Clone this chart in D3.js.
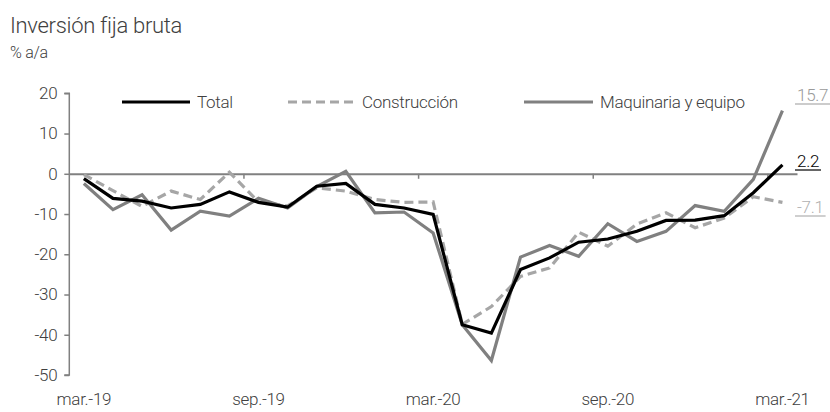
<!DOCTYPE html>
<html><head><meta charset="utf-8">
<script src="https://cdn.jsdelivr.net/npm/d3@7"></script>
<style>
html,body{margin:0;padding:0;background:#fff;}
svg text{font-family:"Roboto","Liberation Sans",sans-serif;font-weight:300;fill:#404040;letter-spacing:-0.3px;}
</style></head>
<body><svg id="c" width="830" height="412"></svg>
<script>
const months = ["mar.-19","abr.-19","may.-19","jun.-19","jul.-19","ago.-19","sep.-19","oct.-19","nov.-19","dic.-19","ene.-20","feb.-20","mar.-20","abr.-20","may.-20","jun.-20","jul.-20","ago.-20","sep.-20","oct.-20","nov.-20","dic.-20","ene.-21","feb.-21","mar.-21"];
const xTickLabels = ["mar.-19","sep.-19","mar.-20","sep.-20","mar.-21"];
const yTicks = [20,10,0,-10,-20,-30,-40,-50];
const total = [-1.2,-6.1,-6.8,-8.5,-7.6,-4.5,-7.1,-8.3,-3.1,-2.4,-7.6,-8.5,-10.1,-37.5,-39.6,-23.8,-20.9,-17.0,-16.2,-14.3,-11.6,-11.5,-10.4,-4.7,2.2];
const construccion = [-0.2,-4.2,-8.1,-4.3,-6.4,0.4,-7.0,-8.0,-3.5,-4.3,-6.4,-7.1,-7.0,-37.4,-33.0,-25.5,-23.4,-14.5,-18.0,-12.5,-9.7,-13.4,-11.0,-5.7,-7.1];
const maquinaria = [-2.4,-8.9,-5.2,-14.0,-9.3,-10.5,-6.1,-8.5,-3.2,0.6,-9.7,-9.5,-14.7,-37.5,-46.4,-20.7,-17.8,-20.5,-12.4,-16.8,-14.3,-7.9,-9.3,-1.4,15.7];
const seriesNames = ["Total","Construcción","Maquinaria y equipo"];

const svg = d3.select("#c");
const x = d3.scaleBand().domain(months).range([69.3, 797]);
const cx = m => x(m) + x.bandwidth()/2;
const y = d3.scaleLinear().domain([-50,20]).range([375,93.3]);
const hy = v => String(v).replace("\u2212","-");

// title
svg.append("text").attr("x",10).attr("y",33).style("font-size","22px").text("Inversión fija bruta");
svg.append("text").attr("x",10).attr("y",58).style("font-size","16px").text("% a/a");

// y axis
const yAxis = svg.append("g").attr("transform","translate(69.3,0)")
  .call(d3.axisLeft(y).tickValues(yTicks).tickSize(5).tickPadding(7).tickFormat(d=>hy(d)));
yAxis.selectAll("path,line").attr("stroke","#808080").attr("stroke-width",1.5);
yAxis.select(".domain").attr("d",`M-5,${y(20)}H0V${y(-50)}H-5`);
yAxis.selectAll("text").style("font-size","17px").style("font-family",null).attr("fill",null);

// zero line with ticks between categories
const xAxis = svg.append("g").attr("transform",`translate(0,${y(0)})`)
  .call(d3.axisBottom(x).tickValues(xTickLabels).tickSize(0).tickFormat(""));
xAxis.select(".domain").attr("stroke","#808080").attr("stroke-width",2);
xAxis.selectAll(".tick").remove();
["sep.-19","mar.-20","sep.-20","mar.-21"].forEach(m=>{
  xAxis.append("line").attr("x1",x(m)).attr("x2",x(m)).attr("y1",0).attr("y2",5)
    .attr("stroke","#808080").attr("stroke-width",1.5);
});
// x labels at bottom
svg.append("g").selectAll("text").data(xTickLabels).join("text")
  .attr("x",d=>cx(d)).attr("y",405).attr("text-anchor","middle")
  .style("font-size","17px").text(d=>d);

const line = d3.line().x((d,i)=>cx(months[i])).y(d=>y(d));
const styles = [
  {data:construccion,color:"#a6a6a6",dash:"9,5"},
  {data:maquinaria,color:"#808080",dash:null},
  {data:total,color:"#000000",dash:null}
];
styles.forEach(s=>{
  svg.append("path").datum(s.data).attr("d",line).attr("fill","none")
    .attr("stroke",s.color).attr("stroke-width",3.2).attr("stroke-dasharray",s.dash)
    .attr("stroke-linejoin","miter");
});

// legend
const legend = [
  {name:seriesNames[0],color:"#000",dash:null,x1:122,x2:190},
  {name:seriesNames[1],color:"#a6a6a6",dash:"9,5",x1:288,x2:355},
  {name:seriesNames[2],color:"#808080",dash:null,x1:524,x2:593}
];
legend.forEach(l=>{
  svg.append("line").attr("x1",l.x1).attr("x2",l.x2).attr("y1",102).attr("y2",102)
    .attr("stroke",l.color).attr("stroke-width",3.2).attr("stroke-dasharray",l.dash);
  svg.append("text").attr("x",l.x2+7).attr("y",108).style("font-size","17px").text(l.name);
});

// end labels
const ends = [
  {v:maquinaria[24],color:"#9a9a9a",y:101},
  {v:total[24],color:"#000",y:167},
  {v:construccion[24],color:"#b0b0b0",y:213}
];
ends.forEach(e=>{
  const t = svg.append("text").attr("x",797).attr("y",e.y).style("font-size","17px")
    .attr("fill",e.color).style("fill",e.color).text(hy(d3.format(".1f")(e.v)));
  const w = t.node().getComputedTextLength();
  svg.append("line").attr("x1",795).attr("x2",799+w).attr("y1",e.y+3).attr("y2",e.y+3)
    .attr("stroke",e.color).attr("stroke-width",1.2);
});
</script></body></html>
